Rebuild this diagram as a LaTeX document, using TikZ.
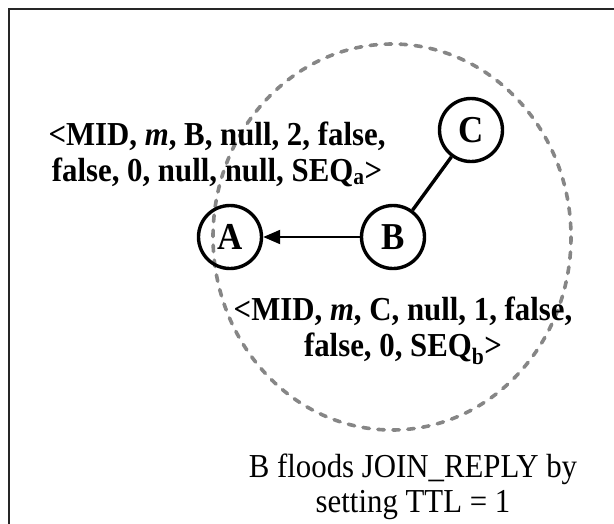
\documentclass[tikz,border=0pt]{standalone}
\usepackage{fontspec}
\setmainfont{Liberation Serif}[FakeStretch=0.92]
\usetikzlibrary{arrows.meta}
\begin{document}
\begin{tikzpicture}[x=1pt,y=-1pt,
  peer/.style={circle,draw=black,line width=3.4pt,fill=none,minimum size=63pt,inner sep=0pt,
    font=\fontsize{38}{38}\selectfont\bfseries},
  msg/.style={align=center,font=\fontsize{33.5}{36}\selectfont\bfseries,inner sep=0pt},
  note/.style={align=center,font=\fontsize{33.5}{35}\selectfont,inner sep=0pt}]
  % page extent and outer frame (runs off the right and bottom edges)
  \useasboundingbox (0,0) rectangle (614,523);
  \draw[line width=2pt,black!85] (9,530) -- (9,9) -- (620,9);
  % one-hop flooding range of B
  \draw[gray!95,line width=3.6pt,dash pattern=on 6.5pt off 8.5pt,line cap=round]
    (392,237) ellipse [x radius=179, y radius=193];
  % nodes
  \node[peer] (A) at (230,237) {A};
  \node[peer] (B) at (393,237) {B};
  \node[peer] (C) at (471,130) {C};
  % links
  \draw[line width=3.4pt] (B) -- (C);
  \draw[line width=2pt,-{Triangle[length=17pt,width=14pt]}] (B) -- (A);
  % messages
  \node[msg] (ma) at (217,154) {<MID, \textit{m}, B, null, 2, false,\\false, 0, null, null, SEQ\textsubscript{a}>};
  \node[msg] (mb) at (403,331) {<MID, \textit{m}, C, null, 1, false,\\false, 0, SEQ\textsubscript{b}>};
  \node[note] (cap) at (413,487) {B floods JOIN\_REPLY by\\setting TTL = 1};
\end{tikzpicture}
\end{document}
